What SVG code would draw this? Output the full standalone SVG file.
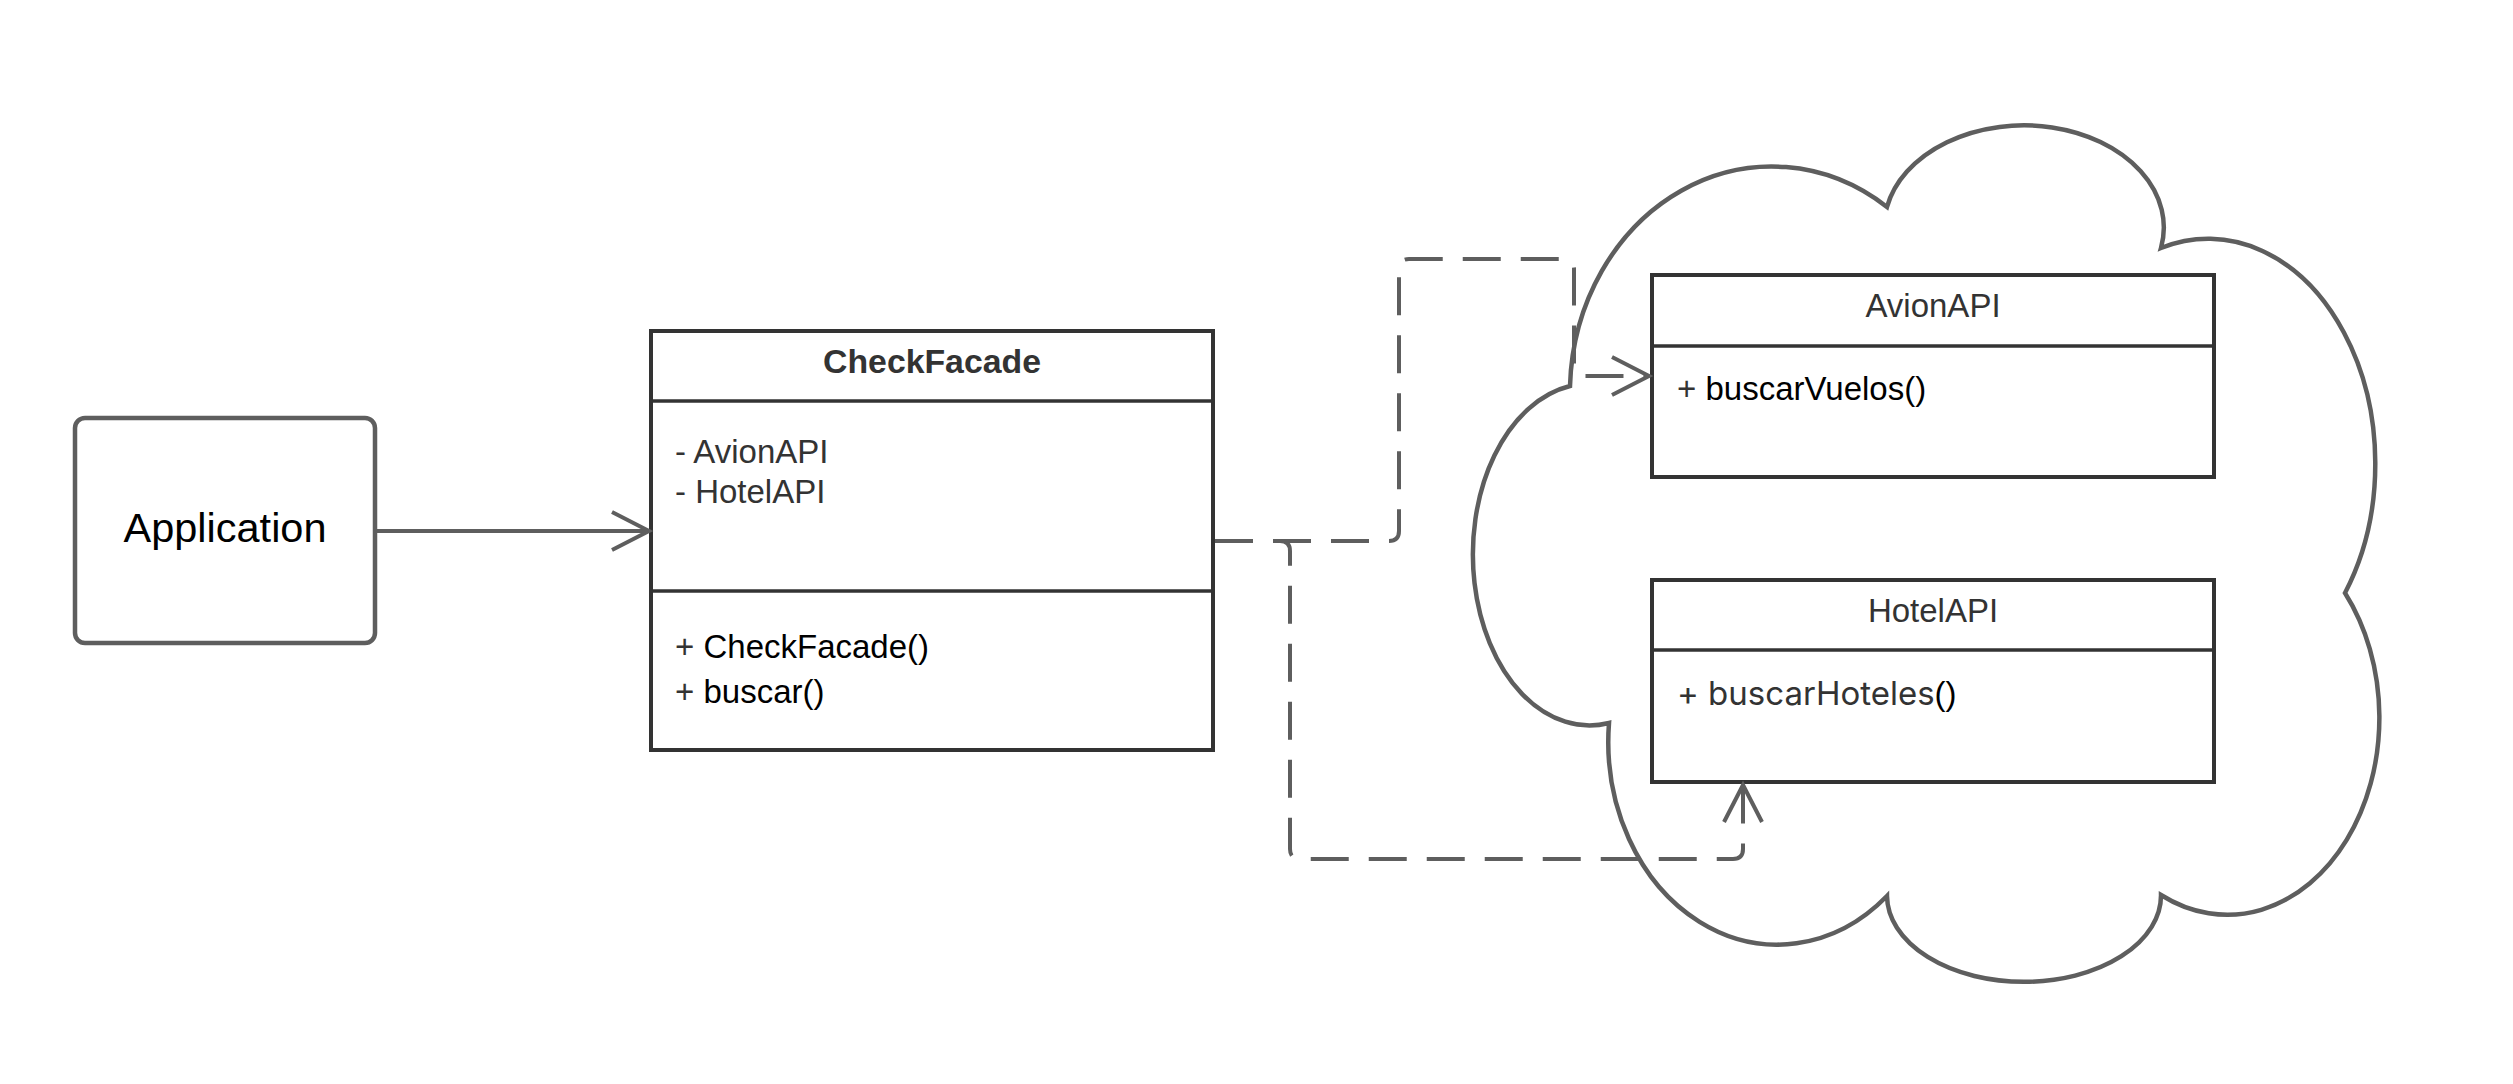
<svg xmlns="http://www.w3.org/2000/svg" width="2513" height="1084" viewBox="0 0 2513 1084">
<defs>
<style>
text{font-family:"Liberation Sans",Arial,sans-serif;font-size:33px;fill:#333333}
.box{fill:#ffffff;stroke:#333333;stroke-width:4}
.sep{stroke:#333333;stroke-width:3.5;fill:none}
.title{text-anchor:middle}
.bold{font-weight:bold}
.blk{fill:#000000}
.inter{font-family:Inter,"Liberation Sans",sans-serif}
.conn{fill:none;stroke:#5e5e5e;stroke-width:4}
.dash{stroke-dasharray:38 20}
</style>
<marker id="open" markerUnits="userSpaceOnUse" markerWidth="60" markerHeight="60" refX="0" refY="0" orient="auto" overflow="visible">
<path d="M -37 -19 L 0 0 L -37 19" fill="none" stroke="#5e5e5e" stroke-width="4"/>
</marker>
</defs>
<rect width="2513" height="1084" fill="#ffffff"/>
<g id="cloud">
<path d="M 1570 386 A 202 227 0 0 1 1887 207 A 130 95 0 0 1 2161 248 A 167 225 0 0 1 2345 593 A 152 197 0 0 1 2161 895 A 130 82 0 0 1 1887 896 A 169 203 0 0 1 1609 723 A 116 170 0 0 1 1570 386 Z" fill="#ffffff" stroke="#5e5e5e" stroke-width="4.5" stroke-linejoin="miter"/>
</g>
<g id="application">
<rect x="75" y="418" width="300" height="225" rx="10" ry="10" fill="#ffffff" stroke="#5e5e5e" stroke-width="4.5"/>
<text x="225" y="542" class="title blk" style="font-size:41.5px">Application</text>
</g>
<g id="checkfacade">
<rect x="651" y="331" width="562" height="419" class="box"/>
<line x1="651" y1="401" x2="1213" y2="401" class="sep"/>
<line x1="651" y1="591" x2="1213" y2="591" class="sep"/>
<text x="932" y="373" class="title bold" style="font-size:33.8px">CheckFacade</text>
<text x="675" y="463">- AvionAPI</text>
<text x="675" y="503">- HotelAPI</text>
<text x="675" y="658">+ <tspan class="blk">CheckFacade()</tspan></text>
<text x="675" y="703">+ <tspan class="blk">buscar()</tspan></text>
</g>
<g id="avionapi">
<rect x="1652" y="275" width="562" height="202" class="box"/>
<line x1="1652" y1="346" x2="2214" y2="346" class="sep"/>
<text x="1933" y="317" class="title">AvionAPI</text>
<text x="1677" y="400">+ <tspan class="blk">buscarVuelos()</tspan></text>
</g>
<g id="hotelapi">
<rect x="1652" y="580" width="562" height="202" class="box"/>
<line x1="1652" y1="650" x2="2214" y2="650" class="sep"/>
<text x="1933" y="622" class="title">HotelAPI</text>
<text x="1677" y="705"><tspan class="inter">+ buscarHoteles</tspan><tspan class="blk">()</tspan></text>
</g>
<g id="connectors">
<path d="M 375 531 H 649" class="conn" marker-end="url(#open)"/>
<path d="M 1215 541 H 1389 Q 1399 541 1399 531 V 269 Q 1399 259 1409 259 H 1564 Q 1574 259 1574 269 V 366 Q 1574 376 1584 376 H 1649" class="conn dash" marker-end="url(#open)"/>
<path d="M 1215 541 H 1280 Q 1290 541 1290 551 V 849 Q 1290 859 1300 859 H 1733 Q 1743 859 1743 849 V 785" class="conn dash" marker-end="url(#open)"/>
</g>
</svg>
